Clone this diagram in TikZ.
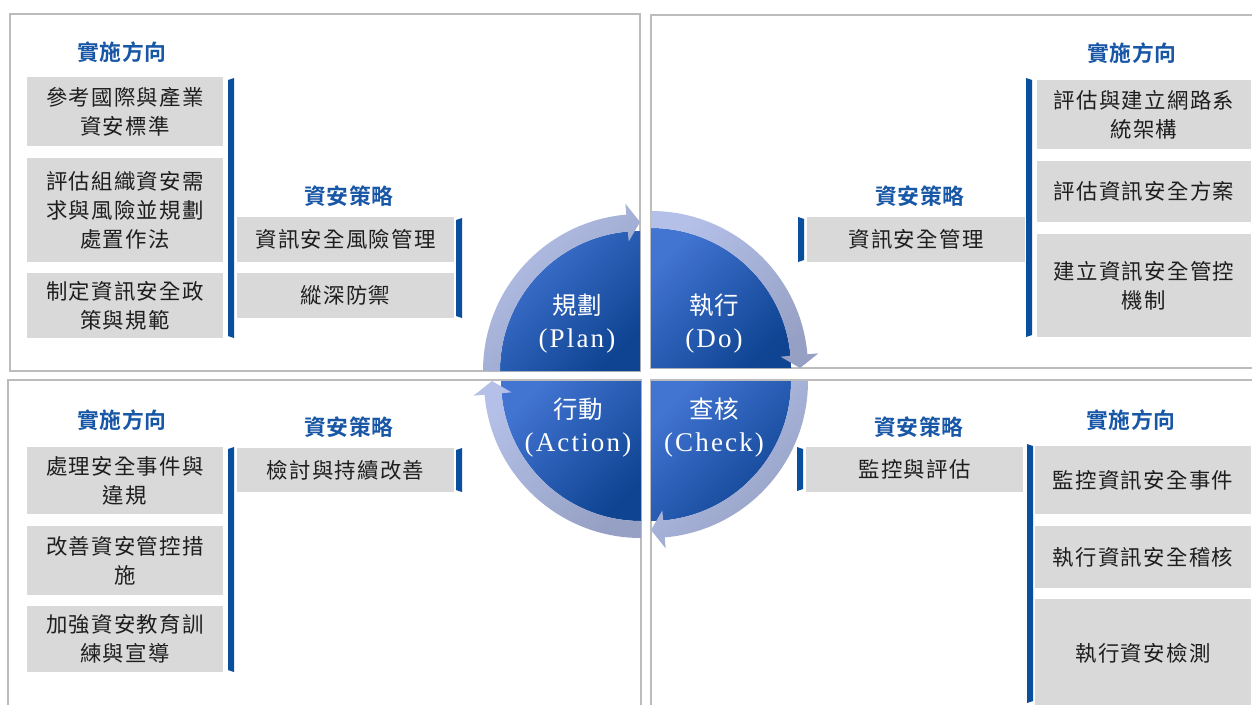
\documentclass[tikz,border=0pt]{standalone}
\usepackage{fontspec}
\setmainfont{Noto Sans CJK TC}
\newfontfamily\boxfont[LetterSpace=6]{Noto Sans CJK TC}
\newfontfamily\hdrfont[LetterSpace=2]{Noto Sans CJK TC Bold}
\newfontfamily\qfont[LetterSpace=0]{Noto Sans CJK TC}
\newfontfamily\qlatin[LetterSpace=8]{Liberation Serif}
\definecolor{boxgray}{RGB}{217,217,217}
\definecolor{boxtext}{RGB}{30,30,30}
\definecolor{hdrblue}{RGB}{24,86,166}
\definecolor{barblue}{RGB}{10,78,158}
\definecolor{panelgray}{RGB}{188,188,188}
\definecolor{qlight}{RGB}{66,116,210}
\definecolor{qdark}{RGB}{14,68,146}
\definecolor{rlight}{RGB}{180,192,232}
\definecolor{rdark}{RGB}{150,160,196}
\newcommand\blueR[4]{\fill[bluebar] (#1,#3+2) -- (#2,#3) -- (#2,#4) -- (#1,#4-2) -- cycle;}
\newcommand\blueL[4]{\fill[bluebar] (#1,#3) -- (#2,#3+2) -- (#2,#4-2) -- (#1,#4) -- cycle;}
\tikzset{
  panel/.style={draw=panelgray, line width=1.5pt},
  box/.style={fill=boxgray, inner sep=0pt, align=center, text=boxtext,
    font=\boxfont\fontsize{21.4}{29}\selectfont},
  hdr/.style={inner sep=0pt, text=hdrblue, font=\hdrfont\fontsize{21.8}{24}\selectfont},
  quad/.style={top color=qlight, bottom color=qdark, shading angle=45},
  ringarrow/.style={top color=rlight, bottom color=rdark, shading angle=45},
  qlabel/.style={inner sep=0pt, align=center, text=white, font=\qfont\fontsize{24.5}{33}\selectfont},
  bluebar/.style={fill=barblue}
}
\newcommand\lat[1]{{\qlatin\fontsize{27}{33}\selectfont #1}}
\begin{document}
\begin{tikzpicture}[x=1pt,y=-1pt]
\useasboundingbox (0,0) rectangle (1252,704);
\clip (0,0) rectangle (1252,704);
\fill[white] (0,0) rectangle (1252,704);
% panels
\draw[panel] (10,14) rectangle (640,371);
\draw[panel] (651,15) rectangle (1262,368);
\draw[panel] (8,380) rectangle (641,714);
\draw[panel] (651,380) rectangle (1262,714);

% ---------- top-left ----------
\node[hdr] (h1) at (122,52) {實施方向};
\node[box, minimum width=196pt, minimum height=69pt] (a1) at (125,111.5) {參考國際與產業\\資安標準};
\node[box, minimum width=196pt, minimum height=104pt] (a2) at (125,210) {評估組織資安需\\求與風險並規劃\\處置作法};
\node[box, minimum width=196pt, minimum height=65pt] (a3) at (125,305.5) {制定資訊安全政\\策與規範};
\blueR{228}{234}{78}{338}
\node[hdr] (h2) at (349,196) {資安策略};
\node[box, minimum width=217pt, minimum height=45pt] (s1) at (345.5,239.5) {資訊安全風險管理};
\node[box, minimum width=217pt, minimum height=45pt] (s2) at (345.5,295.5) {縱深防禦};
\blueR{456}{462}{218}{318}

% ---------- top-right ----------
\node[hdr] (h3) at (920,196) {資安策略};
\node[box, minimum width=218pt, minimum height=45pt] (s3) at (916,239.5) {資訊安全管理};
\blueL{798}{804}{217}{262}
\node[hdr] (h4) at (1132,53) {實施方向};
\blueL{1026}{1032}{78}{337}
\node[box, minimum width=214pt, minimum height=69pt] (b1) at (1144,114.5) {評估與建立網路系\\統架構};
\node[box, minimum width=214pt, minimum height=61pt] (b2) at (1144,191.5) {評估資訊安全方案};
\node[box, minimum width=214pt, minimum height=103pt] (b3) at (1144,285.5) {建立資訊安全管控\\機制};

% ---------- bottom-left ----------
\node[hdr] (h5) at (122,420) {實施方向};
\node[box, minimum width=196pt, minimum height=67pt] (c1) at (125,480.5) {處理安全事件與\\違規};
\node[box, minimum width=196pt, minimum height=69pt] (c2) at (125,560.5) {改善資安管控措\\施};
\node[box, minimum width=196pt, minimum height=66pt] (c3) at (125,639) {加強資安教育訓\\練與宣導};
\blueR{228}{234}{447}{672}
\node[hdr] (h6) at (349,427) {資安策略};
\node[box, minimum width=217pt, minimum height=44pt] (s4) at (345.5,470) {檢討與持續改善};
\blueR{456}{462}{448}{492}

% ---------- bottom-right ----------
\node[hdr] (h7) at (919,427) {資安策略};
\node[box, minimum width=217pt, minimum height=45pt] (s5) at (914.5,469.5) {監控與評估};
\blueL{797}{803}{447}{491}
\node[hdr] (h8) at (1131,420) {實施方向};
\blueL{1027}{1033}{444}{703}
\node[box, minimum width=216pt, minimum height=68pt] (d1) at (1143,480) {監控資訊安全事件};
\node[box, minimum width=216pt, minimum height=62pt] (d2) at (1143,557) {執行資訊安全稽核};
\node[box, minimum width=216pt, minimum height=108pt] (d3) at (1143,653) {執行資安檢測};

% ---------- PDCA circle ----------
\begin{scope}[x=1pt,y=1pt,shift={(640pt,-371pt)}]
  \shade[quad] (0,0) -- (180:140) arc[start angle=180,end angle=90,radius=140] -- cycle;
\end{scope}
\begin{scope}[x=1pt,y=1pt,shift={(651pt,-368pt)}]
  \shade[quad] (0,0) -- (90:140) arc[start angle=90,end angle=0,radius=140] -- cycle;
\end{scope}
\begin{scope}[x=1pt,y=1pt,shift={(651pt,-381pt)}]
  \shade[quad] (0,0) -- (0:140) arc[start angle=0,end angle=-90,radius=140] -- cycle;
\end{scope}
\begin{scope}[x=1pt,y=1pt,shift={(641pt,-381pt)}]
  \shade[quad] (0,0) -- (270:140) arc[start angle=270,end angle=180,radius=140] -- cycle;
\end{scope}
% ring arrows
\begin{scope}[x=1pt,y=1pt,shift={(640pt,-371pt)}]
  \shade[ringarrow] (180:140) arc[start angle=180,end angle=95,radius=140] -- (95:130) -- (90:149) -- (95:168) -- (95:157) arc[start angle=95,end angle=180,radius=157] -- cycle;
\end{scope}
\begin{scope}[x=1pt,y=1pt,shift={(651pt,-368pt)}]
  \shade[ringarrow] (90:140) arc[start angle=90,end angle=5,radius=140] -- (5:130) -- (0:149) -- (5:168) -- (5:157) arc[start angle=5,end angle=90,radius=157] -- cycle;
\end{scope}
\begin{scope}[x=1pt,y=1pt,shift={(651pt,-381pt)}]
  \shade[ringarrow] (0:140) arc[start angle=0,end angle=-85,radius=140] -- (-85:130) -- (-90:149) -- (-85:168) -- (-85:157) arc[start angle=-85,end angle=0,radius=157] -- cycle;
\end{scope}
\begin{scope}[x=1pt,y=1pt,shift={(641pt,-381pt)}]
  \shade[ringarrow] (270:140) arc[start angle=270,end angle=185,radius=140] -- (185:130) -- (180:149) -- (185:168) -- (185:157) arc[start angle=185,end angle=270,radius=157] -- cycle;
\end{scope}
% labels
\node[qlabel] (plan) at (577,324) {規劃\\\lat{(Plan)}};
\node[qlabel] (do) at (714,324) {執行\\\lat{(Do)}};
\node[qlabel] (act) at (578,428) {行動\\\lat{(Action)}};
\node[qlabel] (chk) at (714,428) {查核\\\lat{(Check)}};
\end{tikzpicture}
\end{document}
